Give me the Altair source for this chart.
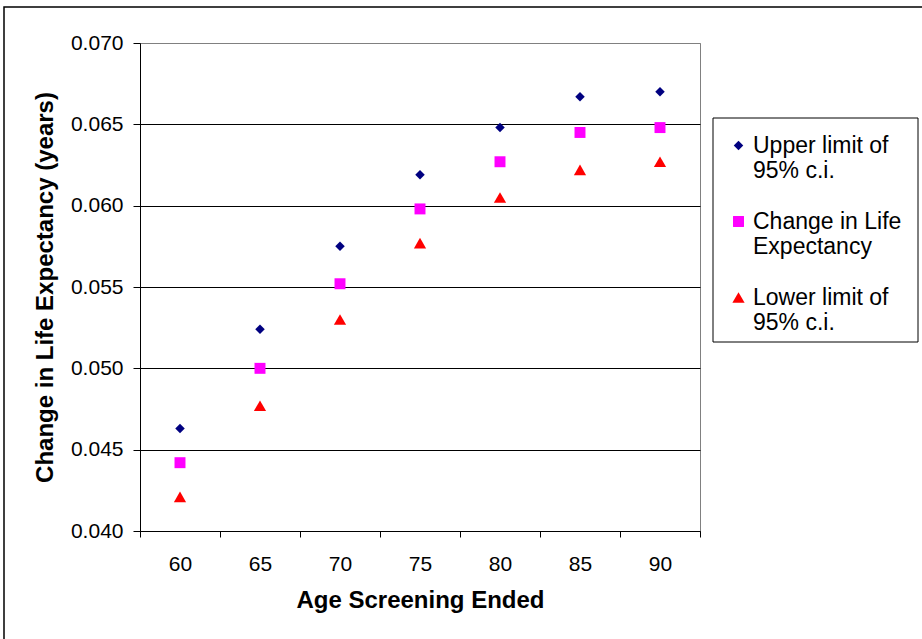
import altair as alt
import pandas as pd

ages = [60, 65, 70, 75, 80, 85, 90]
upper = [0.0463, 0.0524, 0.0575, 0.0619, 0.0648, 0.0667, 0.0670]
change = [0.0442, 0.0500, 0.0552, 0.0598, 0.0627, 0.0645, 0.0648]
lower = [0.0421, 0.0477, 0.0530, 0.0577, 0.0605, 0.0622, 0.0627]
series = ["Upper limit of 95% c.i.", "Change in Life Expectancy", "Lower limit of 95% c.i."]
label_lines = {
    "Upper limit of 95% c.i.": ["Upper limit of", "95% c.i."],
    "Change in Life Expectancy": ["Change in Life", "Expectancy"],
    "Lower limit of 95% c.i.": ["Lower limit of", "95% c.i."],
}
colors = ["#000080", "#FF00FF", "#FF0000"]
shapes = ["diamond", "square", "triangle-up"]
y_ticks = [0.040, 0.045, 0.050, 0.055, 0.060, 0.065, 0.070]

rows = []
for name, vals in zip(series, [upper, change, lower]):
    for a, v in zip(ages, vals):
        rows.append({"age": a, "value": v, "series": name})
df = pd.DataFrame(rows)

FONT = "Liberation Sans"

expr = "datum.label"
for k, v in label_lines.items():
    expr = f"datum.label == '{k}' ? ['{v[0]}', '{v[1]}'] : (" + expr + ")"

points = alt.Chart(df).mark_point(filled=True, opacity=1).encode(
    x=alt.X(
        "age:O",
        scale=alt.Scale(paddingInner=0, paddingOuter=0),
        axis=alt.Axis(
            title="Age Screening Ended",
            labelAngle=0,
            tickBand="extent",
            tickSize=6,
            labelPadding=16,
            labelFontSize=21,
            titleFontSize=24,
            titlePadding=14,
            grid=False,
        ),
    ),
    y=alt.Y(
        "value:Q",
        scale=alt.Scale(domain=[0.040, 0.070], nice=False, zero=False),
        axis=alt.Axis(
            title="Change in Life Expectancy (years)",
            values=y_ticks,
            format=".3f",
            tickSize=7,
            labelPadding=10,
            labelFontSize=21,
            titleFontSize=24,
            titlePadding=13,
            grid=True,
            gridColor={"condition": {"test": "datum.value >= 0.0699", "value": "#808080"}, "value": "#000000"},
        ),
    ),
    color=alt.Color(
        "series:N",
        scale=alt.Scale(domain=series, range=colors),
        legend=alt.Legend(
            title=None,
            orient="none",
            legendX=587,
            legendY=91,
            padding=0,
            labelFontSize=23,
            labelExpr=expr,
            labelLimit=400,
            labelOffset=3,
            rowPadding=27,
            symbolOpacity=1,
        ),
    ),
    shape=alt.Shape("series:N", scale=alt.Scale(domain=series, range=shapes)),
    size=alt.Size("series:N", scale=alt.Scale(domain=series, range=[90, 150, 100])),
)

one = pd.DataFrame({"a": [0]})

legend_box = alt.Chart(one).mark_rect(
    fill="white", stroke="#000000", strokeWidth=1, clip=False
).encode(
    x=alt.value(573), x2=alt.value(778), y=alt.value(75), y2=alt.value(299)
)

border = alt.Chart(one).mark_rect(
    fill=None, stroke="#000000", strokeWidth=1.5, clip=False
).encode(
    x=alt.value(-136), x2=alt.value(800), y=alt.value(-36), y2=alt.value(620)
)

chart = alt.layer(points, legend_box, border).properties(
    width=560,
    height=488,
    autosize=alt.AutoSizeParams(type="none"),
    padding={"left": 140, "top": 43, "right": 222, "bottom": 108},
    background="white",
).configure_view(
    stroke="#808080", strokeWidth=1
).configure_axis(
    labelFont=FONT,
    titleFont=FONT,
    labelColor="#000000",
    titleColor="#000000",
    domainColor="#000000",
    tickColor="#000000",
    titleFontWeight="bold",
).configure_legend(
    labelFont=FONT, labelColor="#000000"
)

chart.save("out.html", embed_options={"renderer": "svg", "actions": False})
